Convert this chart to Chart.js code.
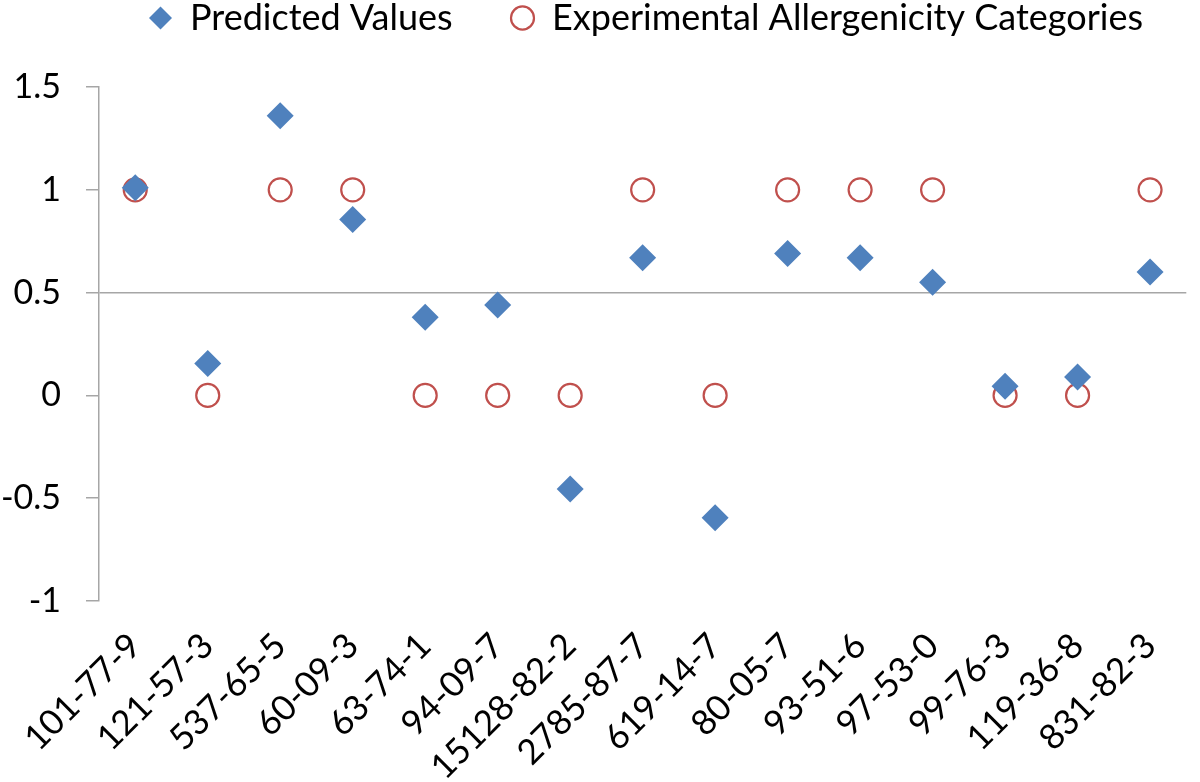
<!DOCTYPE html>
<html>
<head>
<meta charset="utf-8">
<script src="https://cdn.jsdelivr.net/npm/chart.js@4.4.1/dist/chart.umd.min.js"></script>
<style>
  html, body { margin: 0; padding: 0; background: #fff; }
  #wrap { width: 1200px; height: 782px; }
</style>
</head>
<body>
<div id="wrap"><canvas id="chart1" width="1200" height="782"></canvas></div>
<script>
// CAS numbers of the chemicals
const casNumbers = ['101-77-9', '121-57-3', '537-65-5', '60-09-3', '63-74-1', '94-09-7', '15128-82-2',
  '2785-87-7', '619-14-7', '80-05-7', '93-51-6', '97-53-0', '99-76-3', '119-36-8', '831-82-3'];
const predictedValues = [1.01, 0.155, 1.36, 0.855, 0.38, 0.44, -0.455, 0.67, -0.595, 0.69, 0.67, 0.55, 0.045, 0.09, 0.6];
const experimentalCategories = [1, 0, 1, 1, 0, 0, 0, 1, 0, 1, 1, 1, 0, 0, 1];
const yTicks = [-1, -0.5, 0, 0.5, 1, 1.5];

const fontFamily = 'Lato, "Open Sans", sans-serif';
const legendFontSize = 36;
const axisGray = '#a6a6a6';

// legend spacing: gap between the two entries like the excel original
const legendMarkerW = 23;
const firstBoxLeft = 149;
const secondBoxLeft = 511;
const measure = document.createElement('canvas').getContext('2d');
measure.font = legendFontSize + 'px ' + fontFamily;
const firstTextW = measure.measureText('Predicted Values').width;
const legendGap = Math.max(20, secondBoxLeft - firstBoxLeft - legendMarkerW - legendFontSize / 2 - firstTextW);

const legendSpacing = {
  id: 'legendSpacing',
  beforeInit(chart) {
    const legend = chart.legend;
    const origFit = legend.fit;
    legend.fit = function () {
      this.maxWidth = 3000;
      origFit.call(this);
      this.width = chart.width;
      this.height = 87;
    };
  },
  afterLayout(chart) {
    const legend = chart.legend;
    legend.top = 0 - legendGap;
    legend.left = firstBoxLeft - legendGap;
    legend.right = 3000;
  }
};

const chart1 = document.getElementById('chart1');
new Chart(chart1, {
  type: 'line',
  data: {
    labels: casNumbers,
    datasets: [{
      label: 'Predicted Values',
      data: predictedValues,
      showLine: false,
      pointStyle: 'rectRot',
      pointRadius: 13.5,
      pointHoverRadius: 13.5,
      pointBackgroundColor: '#4f81bd',
      pointBorderColor: '#4f81bd',
      pointBorderWidth: 0,
      backgroundColor: '#4f81bd',
      borderColor: '#4f81bd',
      borderWidth: 0
    }, {
      label: 'Experimental Allergenicity Categories',
      data: experimentalCategories,
      showLine: false,
      pointStyle: 'circle',
      pointRadius: 11.5,
      pointHoverRadius: 11.5,
      pointBackgroundColor: 'rgba(255,255,255,0)',
      pointBorderColor: '#c0504d',
      pointBorderWidth: 2.2,
      backgroundColor: 'rgba(255,255,255,0)',
      borderColor: '#c0504d',
      borderWidth: 2
    }]
  },
  plugins: [legendSpacing],
  options: {
    responsive: false,
    animation: false,
    layout: { padding: { left: 0, right: 4, top: 0, bottom: 0 } },
    plugins: {
      tooltip: { enabled: false },
      legend: {
        position: 'top',
        align: 'start',
        labels: {
          usePointStyle: true,
          pointStyleWidth: legendMarkerW,
          boxHeight: 16.3,
          padding: legendGap,
          color: '#000',
          font: { family: fontFamily, size: legendFontSize }
        }
      }
    },
    scales: {
      x: {
        offset: true,
        grid: { display: false, drawTicks: false },
        border: { display: false },
        afterFit: (scale) => {
          scale.paddingLeft = 0;
          scale.paddingRight = 0;
          scale.height = 181;
        },
        ticks: {
          color: '#000',
          minRotation: 45,
          maxRotation: 45,
          autoSkip: false,
          padding: 24,
          font: { family: fontFamily, size: 35 }
        }
      },
      y: {
        min: -1,
        max: 1.5,
        afterBuildTicks: (scale) => { scale.ticks = yTicks.map(v => ({ value: v })); },
        afterFit: (scale) => { scale.width = 99; },
        border: { display: true, color: axisGray, width: 1.5 },
        grid: {
          drawOnChartArea: true,
          drawTicks: true,
          tickLength: 13,
          tickColor: axisGray,
          lineWidth: 1.5,
          color: (ctx) => (ctx.tick && ctx.tick.value === 0.5 ? axisGray : 'rgba(0,0,0,0)')
        },
        ticks: {
          color: '#000',
          padding: 25,
          callback: (v) => String(v),
          font: { family: fontFamily, size: 34 }
        }
      }
    }
  }
});
</script>
</body>
</html>
